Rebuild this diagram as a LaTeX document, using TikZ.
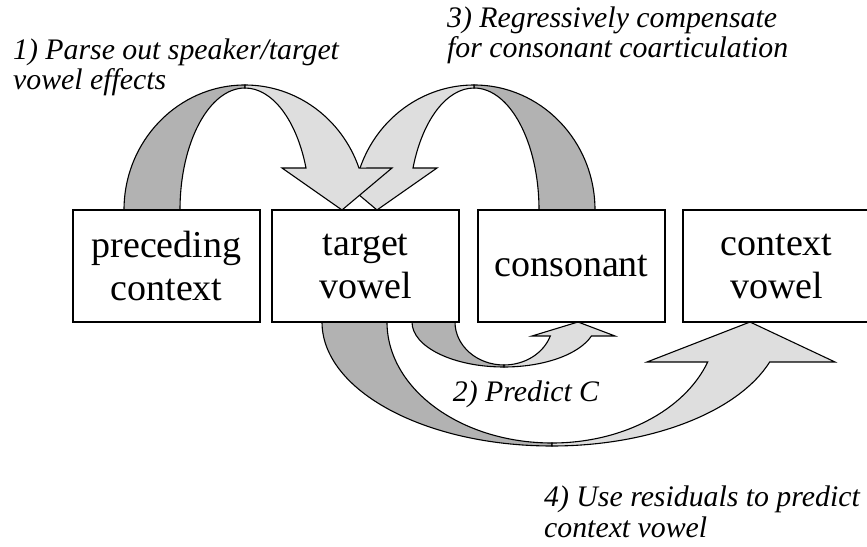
\documentclass[tikz,border=0pt]{standalone}
\usepackage{fontspec}
\setmainfont{Liberation Serif}
\usetikzlibrary{positioning}

\definecolor{backband}{gray}{0.70}
\definecolor{frontband}{gray}{0.87}

\tikzset{
  unit/.style={draw, line width=1.4pt, fill=white, minimum width=187pt, minimum height=112pt,
    inner sep=0pt, align=center, font=\fontsize{38}{43}\selectfont},
  band/.style={draw=black, line width=1.1pt, line join=miter},
  note/.style={inner sep=0pt, align=left, font=\fontsize{29.8}{30.5}\selectfont\itshape}
}

\begin{document}
\begin{tikzpicture}[x=1pt,y=1pt]
\clip (0,0) rectangle (867,546);

%TOP ARROWS
%3) first, 1) lies over it
\foreach \cx/\sx in {474/-1,245/1}
{
\begin{scope}[shift={(\cx,336)},xscale=\sx]
\filldraw [band, fill=backband] (-121,0) arc[start angle=180, end angle=90, x radius=121, y radius=125]
  -- (0,122) arc[start angle=90, end angle=180, x radius=65, y radius=122] -- cycle;
\filldraw [band, fill=frontband] (0,125) arc[start angle=90, end angle=19.6, x radius=121, y radius=125]
  -- (147,42) -- (97,0) -- (37,42)
  -- (61,42) arc[start angle=20.14, end angle=90, x radius=65, y radius=122] -- cycle;
\end{scope}
}

%BOTTOM ARROWS
%2) target vowel to consonant
\begin{scope}[shift={(504,224)}]
\filldraw [band, fill=backband] (-92,0) arc[start angle=180, end angle=270, x radius=92, y radius=45]
  -- (0,-43) arc[start angle=270, end angle=180, x radius=49, y radius=43] -- cycle;
\filldraw [band, fill=frontband] (0,-45) arc[start angle=270, end angle=341.9, x radius=92, y radius=45]
  -- (111,-14) -- (74,0) -- (28,-14)
  -- (46.3,-14) arc[start angle=341, end angle=270, x radius=49, y radius=43] -- cycle;
\end{scope}
%4) target vowel to context vowel
\begin{scope}[shift={(552,224)}]
\filldraw [band, fill=backband] (-230,0) arc[start angle=180, end angle=270, x radius=230, y radius=124]
  -- (0,-121) arc[start angle=270, end angle=180, x radius=165, y radius=121] -- cycle;
\filldraw [band, fill=frontband] (0,-124) arc[start angle=270, end angle=341.18, x radius=230, y radius=124]
  -- (283,-40) -- (198,0) -- (95,-40)
  -- (155.7,-40) arc[start angle=340.7, end angle=270, x radius=165, y radius=121] -- cycle;
\end{scope}

%BOXES
\node [unit] (prec) at (166.5,280) {preceding\\context};
\node [unit] (targ) at (365.5,280) {target\\vowel};
\node [unit] (cons) at (571.5,280) {consonant};
\node [unit] (ctxv) at (776.5,280) {context\\vowel};

%Labels (base = last line)
\node [note, anchor=base west] (parse) at (13,456) {1) Parse out speaker/target\\vowel effects};
\node [note, anchor=base west] (regress) at (447,488) {3) Regressively compensate\\for consonant coarticulation};
\node [note, anchor=base] (predc) at (526,144) {2) Predict C};
\node [note, anchor=base west] (resid) at (544,9) {4) Use residuals to predict\\context vowel};

\end{tikzpicture}
\end{document}
